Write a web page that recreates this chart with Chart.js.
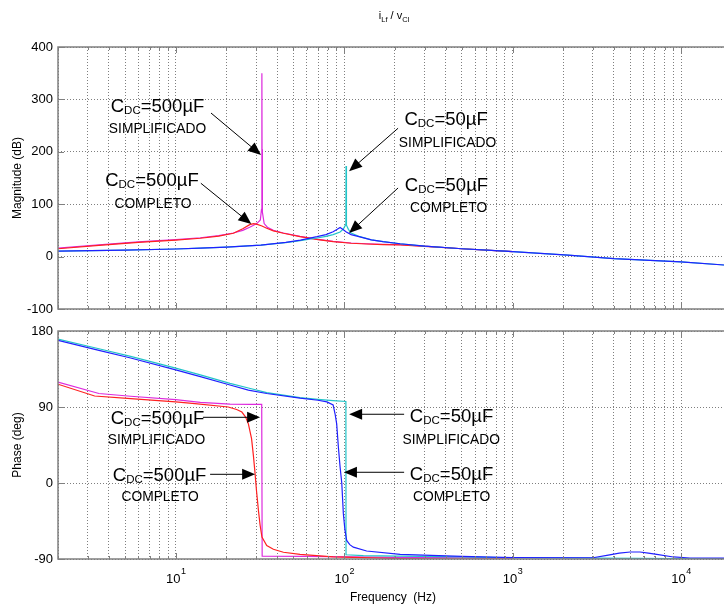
<!DOCTYPE html>
<html>
<head>
<meta charset="utf-8">
<script src="https://cdn.jsdelivr.net/npm/chart.js@4"></script>
<style>
  body { margin: 0; background: #fff; }
  #wrap { position: relative; width: 724px; height: 609px; }
  canvas { position: absolute; left: 0; }
</style>
</head>
<body>
<div id="wrap">
  <canvas id="mag" width="724" height="320" style="top:0px"></canvas>
  <canvas id="phase" width="724" height="289" style="top:320px"></canvas>
</div>
<script>
////////////////// Data ///////////////////////

const decades = [10, 100, 1000, 10000];
const magTicks = [-100, 0, 100, 200, 300, 400];
const phaseTicks = [-90, 0, 90, 180];

// minor + major grid positions, 2 Hz .. 18 kHz
const gridFreqs = [];
[1, 10, 100, 1000, 10000].forEach((d) => {
  for (let m = 1; m <= 9; m++) {
    const v = m * d;
    if (v >= 2 && v <= 18000) gridFreqs.push(v);
  }
});

// Magnitude (dB)
// CDC = 500uF completo (red)
const magRedF  = [2, 3.5, 6, 10, 14, 18, 22, 25, 27.5, 29, 30.5, 32.5, 34.7, 38, 43.6, 54.7, 70, 86, 110, 136, 170, 215, 300, 500, 1000];
const magRedDb = [15, 21.5, 27, 31.5, 35, 39, 44.5, 53, 61, 63, 61.5, 58.5, 54, 49, 44.5, 38, 32.5, 28.5, 25.5, 24, 23, 22.5, 19.7, 15, 9.5];
// CDC = 500uF simplificado (magenta)
const magMagF  = [2, 3.5, 6, 10, 14, 18, 22, 25, 27.5, 29, 30.5, 31.8, 32.3, 32.45, 32.5, 32.55, 32.7, 33.5, 35, 38, 43.6, 54.7, 70, 86, 110, 136, 170, 215, 300, 500, 1000];
const magMagDb = [16, 22.5, 28, 32.5, 36, 40, 45, 50, 56, 60, 64, 70, 90, 210, 350, 205, 85, 63, 56, 50, 45, 38.5, 33, 29, 26, 24.5, 23.5, 23, 20, 15, 9.5];
// CDC = 50uF completo (blue)
const magBlueF  = [2, 5, 10, 14, 20, 32, 45, 55, 69, 78, 86, 91, 94.6, 98, 103, 110, 124, 145, 170, 215, 300, 500, 900, 2130, 4000, 10000, 18000];
const magBlueDb = [10.5, 12.5, 14.5, 16, 18, 22, 27, 31.5, 38, 42, 47.5, 52, 55.5, 52, 47, 42, 37.5, 32, 28.5, 24.5, 20, 15, 10.5, 3, -4, -10, -16];
// CDC = 50uF simplificado (cyan)
const magCyanF  = [2, 5, 10, 14, 20, 32, 45, 55, 69, 78, 86, 94.6, 99, 101.8, 102.4, 102.6, 102.8, 103.6, 106, 110, 124, 145, 170, 215, 300, 500, 900, 2130, 4000, 10000, 18000];
const magCyanDb = [10.5, 12.5, 14.5, 16, 18, 22, 26.5, 30.5, 35.5, 38.5, 42, 47, 53, 60, 95, 173, 85, 60, 52, 45, 38, 32, 28.5, 24.5, 20, 15, 10.5, 3, -4, -10, -16];

// Phase (deg)
const phRedF   = [2, 3.3, 5.4, 10, 13, 20.5, 23, 24.7, 26, 27, 28.2, 28.9, 29.5, 30.2, 31, 31.7, 32.5, 34.7, 38, 43.6, 54.7, 86, 215, 500, 1000];
const phRedDeg = [117, 103, 100, 96, 94, 90, 87, 84, 78, 70, 52.5, 33, 14, -10, -33, -50, -64, -74, -78.5, -82, -84.5, -87.5, -89.5, -90, -90];
const phMagF   = [2, 3.5, 5.4, 10, 14, 21, 28, 32.4, 32.6, 60, 200, 1000];
const phMagDeg = [119.5, 106, 102.7, 98.7, 95.5, 93.5, 93, 93, -86.5, -87, -88, -89];
const phBlueF   = [2, 3.5, 5.4, 10, 14, 21, 27, 34.7, 54.7, 70, 79, 86, 88.3, 90.3, 92.4, 94.6, 96.8, 98.9, 101, 103.5, 108, 113.4, 136, 215, 500, 1000, 3000, 3630, 4300, 5000, 5710, 6400, 7180, 9000, 11300, 18000];
const phBlueDeg = [169, 157, 148, 134, 126, 116, 110, 106, 100.5, 98, 96, 92.5, 82, 70, 42.6, 19, 0, -36, -55, -68, -73, -76, -80.5, -84.5, -87, -88.3, -88.5, -85.6, -83, -81.7, -81.7, -83, -84.5, -87.6, -88.8, -89];
const phCyanF   = [2, 3.5, 5.4, 10, 14, 21, 27, 34.7, 54.7, 70, 86, 102.4, 102.6, 130, 215, 500, 1000, 3000, 10000, 18000];
const phCyanDeg = [170.5, 159, 150, 136, 128, 118, 112.5, 107, 101, 99, 97.5, 96.5, -85, -86, -86.5, -87.5, -88.5, -89, -89.5, -89.5];

// annotations: text centre, word centre, arrow tail -> tip (data coords)
const magNotes = [
  { c: "500", t: [7.8, 289], w: "SIMPLIFICADO", wp: [7.8, 245], a: [16.2, 274, 32.1, 194] },
  { c: "500", t: [7.23, 148], w: "COMPLETO", wp: [7.33, 102], a: [14.1, 140, 28.1, 62] },
  { c: "50", t: [403, 263], w: "SIMPLIFICADO", wp: [411, 219], a: [209, 245, 107, 163] },
  { c: "50", t: [405, 138.5], w: "COMPLETO", wp: [417, 94.7], a: [209, 131, 107, 45] },
];
const phaseNotes = [
  { c: "500", t: [7.8, 77.8], w: "SIMPLIFICADO", wp: [7.69, 51.8], a: [14.5, 77.8, 31.7, 77.8] },
  { c: "500", t: [8.02, 10.3], w: "COMPLETO", wp: [8.07, -15.8], a: [16, 10.3, 29.6, 10.3] },
  { c: "50", t: [434, 80.2], w: "SIMPLIFICADO", wp: [432, 51.7], a: [227, 81.4, 107, 81.4] },
  { c: "50", t: [434, 11.5], w: "COMPLETO", wp: [434, -15.8], a: [227, 12.7, 99.7, 12.7] },
];

////////////////// Helpers ///////////////////////

const FONT = '"Liberation Sans", Arial, Helvetica, sans-serif';
const RED = "#ff2020", MAGENTA = "#dd2add", BLUE = "#2020ff", CYAN = "#22c4c8";
const GRID = "rgba(0,0,0,0.5)";
const FRAME = "#808080";

const pairs = (xs, ys) => xs.map((x, i) => ({ x: x, y: ys[i] }));
const series = (label, color, xs, ys) => ({
  label, data: pairs(xs, ys), borderColor: color, borderWidth: 1.2,
  pointRadius: 0, tension: 0, fill: false,
});
const zeroPad = (s) => { s.paddingLeft = s.paddingRight = s.paddingTop = s.paddingBottom = 0; };

function drawCdc(ctx, cx, cy, value) {
  const big = 18.5, small = 11.5;
  const base = cy + 0.358 * big;
  ctx.font = big + "px " + FONT;
  const w1 = ctx.measureText("C").width;
  const w3 = ctx.measureText("=" + value + "\u00b5F").width;
  ctx.font = small + "px " + FONT;
  const w2 = ctx.measureText("DC").width;
  let x = cx - (w1 + w2 + w3) / 2;
  ctx.textAlign = "left";
  ctx.textBaseline = "alphabetic";
  ctx.font = big + "px " + FONT;
  ctx.fillText("C", x, base);
  x += w1;
  ctx.font = small + "px " + FONT;
  ctx.fillText("DC", x, base + 2);
  x += w2;
  ctx.font = big + "px " + FONT;
  ctx.fillText("=" + value + "\u00b5F", x, base);
}

function drawArrow(ctx, x1, y1, x2, y2) {
  const ang = Math.atan2(y2 - y1, x2 - x1);
  const L = 13, W = 5.5;
  const c = Math.cos(ang), s = Math.sin(ang);
  ctx.beginPath();
  ctx.moveTo(x1, y1);
  ctx.lineTo(x2 - L * 0.8 * c, y2 - L * 0.8 * s);
  ctx.stroke();
  ctx.beginPath();
  ctx.moveTo(x2, y2);
  ctx.lineTo(x2 - L * c + W * s, y2 - L * s - W * c);
  ctx.lineTo(x2 - L * c - W * s, y2 - L * s + W * c);
  ctx.closePath();
  ctx.fill();
}

// box, inward tick marks, axis label, annotations
const decor = {
  id: "decor",
  afterDatasetsDraw(chart, args, opts) {
    const { ctx, chartArea: a, scales } = chart;
    ctx.save();
    ctx.strokeStyle = FRAME;
    ctx.lineWidth = 1;
    ctx.beginPath();
    scales.x.ticks.forEach((t) => {
      const px = Math.round(scales.x.getPixelForValue(t.value)) + 0.5;
      const len = decades.includes(t.value) ? 6 : 3;
      ctx.moveTo(px, a.bottom); ctx.lineTo(px, a.bottom - len);
      ctx.moveTo(px, a.top); ctx.lineTo(px, a.top + len);
    });
    scales.y.ticks.forEach((t) => {
      const py = Math.round(scales.y.getPixelForValue(t.value)) + 0.5;
      ctx.moveTo(a.left, py); ctx.lineTo(a.left + 6, py);
    });
    ctx.stroke();
    ctx.lineWidth = 1.5;
    ctx.beginPath();
    ctx.moveTo(a.right + 2, a.top);
    ctx.lineTo(a.left, a.top);
    ctx.lineTo(a.left, a.bottom);
    ctx.lineTo(a.right + 2, a.bottom);
    ctx.stroke();
    ctx.restore();
  },
  afterDraw(chart, args, opts) {
    const { ctx, chartArea: a, scales } = chart;
    ctx.save();
    ctx.fillStyle = "#000";
    ctx.strokeStyle = "#000";
    ctx.lineWidth = 1;

    // y axis label
    ctx.save();
    ctx.translate(18, (a.top + a.bottom) / 2);
    ctx.rotate(-Math.PI / 2);
    ctx.font = "12px " + FONT;
    ctx.textAlign = "center";
    ctx.textBaseline = "middle";
    ctx.fillText(opts.ylabel, 0, 0);
    ctx.restore();

    // annotations
    opts.notes.forEach((n) => {
      const X = (f) => scales.x.getPixelForValue(f);
      const Y = (v) => scales.y.getPixelForValue(v);
      drawCdc(ctx, X(n.t[0]), Y(n.t[1]), n.c);
      ctx.font = "13.8px " + FONT;
      ctx.textAlign = "center";
      ctx.textBaseline = "alphabetic";
      ctx.fillText(n.w, X(n.wp[0]), Y(n.wp[1]) + 0.358 * 13.8);
      drawArrow(ctx, X(n.a[0]), Y(n.a[1]), X(n.a[2]), Y(n.a[3]));
    });

    if (opts.title) {
      // i_Lf / v_Cl
      const parts = [["i", 11, 0], ["Lf", 7.5, 3], [" / v", 11, 0], ["Cl", 7.5, 3]];
      let w = 0;
      parts.forEach((p) => { ctx.font = p[1] + "px " + FONT; w += ctx.measureText(p[0]).width; });
      let x = 394 - w / 2;
      ctx.textAlign = "left";
      ctx.textBaseline = "alphabetic";
      parts.forEach((p) => {
        ctx.font = p[1] + "px " + FONT;
        ctx.fillText(p[0], x, 19 + p[2]);
        x += ctx.measureText(p[0]).width;
      });
    }

    if (opts.xlabels) {
      decades.forEach((d) => {
        const px = scales.x.getPixelForValue(d);
        const exp = String(Math.round(Math.log10(d)));
        ctx.font = "13px " + FONT;
        const w1 = ctx.measureText("10").width;
        ctx.font = "9px " + FONT;
        const w2 = ctx.measureText(exp).width;
        const x0 = px - (w1 + w2) / 2;
        ctx.textAlign = "left";
        ctx.textBaseline = "alphabetic";
        ctx.font = "13px " + FONT;
        ctx.fillText("10", x0, a.bottom + 24);
        ctx.font = "9px " + FONT;
        ctx.fillText(exp, x0 + w1 + 0.5, a.bottom + 15);
      });
      ctx.font = "12px " + FONT;
      ctx.textAlign = "center";
      ctx.fillText("Frequency  (Hz)", 393, a.bottom + 42);
    }
    ctx.restore();
  },
};

function makeChart(id, datasets, yTicks, pad, pluginOpts) {
  return new Chart(document.getElementById(id), {
    type: "line",
    data: { datasets },
    options: {
      responsive: false,
      animation: false,
      events: [],
      layout: { padding: { top: pad[0], bottom: pad[1], left: 0, right: 0 } },
      plugins: { legend: { display: false }, tooltip: { enabled: false }, decor: pluginOpts },
      scales: {
        x: {
          type: "logarithmic",
          min: 2,
          max: 18000,
          afterBuildTicks: (s) => { s.ticks = gridFreqs.map((v) => ({ value: v })); },
          afterFit: (s) => { s.height = 0; zeroPad(s); },
          ticks: { display: false },
          grid: { color: GRID, lineWidth: 1, drawTicks: false },
          border: { display: false, dash: [1, 2] },
        },
        y: {
          min: yTicks[0],
          max: yTicks[yTicks.length - 1],
          afterBuildTicks: (s) => { s.ticks = yTicks.map((v) => ({ value: v })); },
          afterFit: (s) => { s.width = 58; zeroPad(s); },
          ticks: { color: "#000", font: { family: FONT, size: 13 }, padding: 5 },
          grid: { color: GRID, lineWidth: 1, drawTicks: false },
          border: { display: false, dash: [1, 2] },
        },
      },
    },
    plugins: [decor],
  });
}

////////////////// Charts ///////////////////////

makeChart("mag", [
  series("50\u00b5F completo", BLUE, magBlueF, magBlueDb),
  series("50\u00b5F simplificado", CYAN, magCyanF, magCyanDb),
  series("500\u00b5F completo", RED, magRedF, magRedDb),
  series("500\u00b5F simplificado", MAGENTA, magMagF, magMagDb),
], magTicks, [47, 11], { ylabel: "Magnitude (dB)", notes: magNotes, title: true, xlabels: false });

makeChart("phase", [
  series("50\u00b5F completo", BLUE, phBlueF, phBlueDeg),
  series("50\u00b5F simplificado", CYAN, phCyanF, phCyanDeg),
  series("500\u00b5F completo", RED, phRedF, phRedDeg),
  series("500\u00b5F simplificado", MAGENTA, phMagF, phMagDeg),
], phaseTicks, [11, 50], { ylabel: "Phase (deg)", notes: phaseNotes, title: false, xlabels: true });
</script>
</body>
</html>
